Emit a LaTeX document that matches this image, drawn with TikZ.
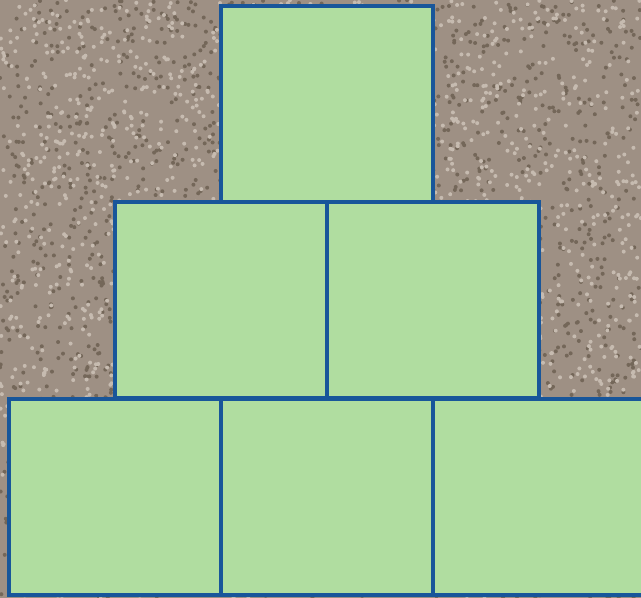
\documentclass[tikz,border=0pt]{standalone}
\usetikzlibrary{positioning}
\definecolor{granite}{HTML}{9E9084}
\definecolor{granitedark}{HTML}{746759}
\definecolor{granitelight}{HTML}{C6BBB0}
\definecolor{blockgreen}{HTML}{B0DDA0}
\definecolor{blockblue}{HTML}{18569A}
\begin{document}
\begin{tikzpicture}[x=1pt, y=-1pt,
    block/.style={draw=blockblue, fill=blockgreen, line width=3.5pt, minimum width=212pt, minimum height=196pt, inner sep=0pt, outer sep=0pt}]
  \useasboundingbox (0,0) rectangle (641,598);
  \clip (0,0) rectangle (641,598);
  % speckled background
  \fill[granite] (0,0) rectangle (641,598);
  \pgfmathsetseed{7}
  \fill[granitedark] \foreach \i in {1,...,2200} {(641*rnd, 598*rnd) circle (2pt)};
  \fill[granitelight] \foreach \i in {1,...,2200} {(641*rnd, 598*rnd) circle (2pt)};
  % blocks
  \node[block] (top) at (327,104) {};
  \node[block] (midleft) at (221,300) {};
  \node[block] (midright) at (433,300) {};
  \node[block] (botleft) at (115,497) {};
  \node[block] (botmid) at (327,497) {};
  \node[block] (botright) at (539,497) {};
\end{tikzpicture}
\end{document}
